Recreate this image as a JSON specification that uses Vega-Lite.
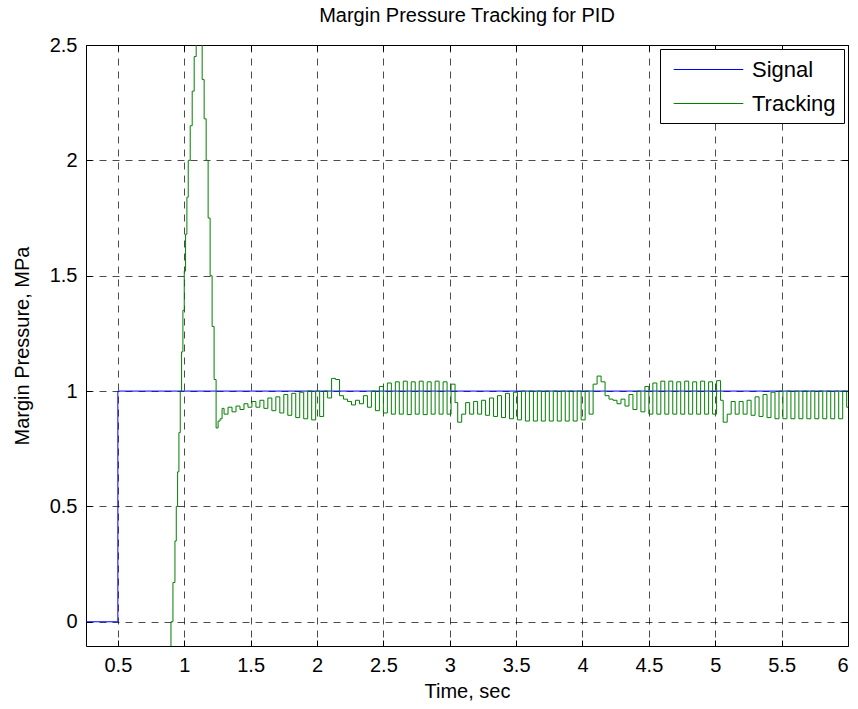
{
  "$schema": "https://vega.github.io/schema/vega-lite/v6.json",
  "width": 762,
  "height": 601,
  "autosize": {"type": "none"},
  "padding": {"left": 86, "top": 45, "right": 10, "bottom": 63},
  "title": {"text": "Margin Pressure Tracking for PID", "fontSize": 20, "fontWeight": "normal", "font": "Liberation Sans", "color": "#000", "offset": 9},
  "datasets": {
    "signal": [
      {"s": "Signal", "t": 0.26, "v": 0},
      {"s": "Signal", "t": 0.5, "v": 1},
      {"s": "Signal", "t": 6.0, "v": 1}
    ],
    "tracking": [
      {"s": "Tracking", "t": 0.87, "v": -0.3},
      {"s": "Tracking", "t": 0.89, "v": -0.12},
      {"s": "Tracking", "t": 0.9, "v": 0.0},
      {"s": "Tracking", "t": 0.915, "v": 0.17},
      {"s": "Tracking", "t": 0.93, "v": 0.35},
      {"s": "Tracking", "t": 0.94, "v": 0.5},
      {"s": "Tracking", "t": 0.95, "v": 0.65},
      {"s": "Tracking", "t": 0.96, "v": 0.82},
      {"s": "Tracking", "t": 0.97, "v": 1.0},
      {"s": "Tracking", "t": 0.98, "v": 1.17},
      {"s": "Tracking", "t": 0.99, "v": 1.35},
      {"s": "Tracking", "t": 1.0, "v": 1.52},
      {"s": "Tracking", "t": 1.01, "v": 1.68},
      {"s": "Tracking", "t": 1.02, "v": 1.84},
      {"s": "Tracking", "t": 1.03, "v": 2.0},
      {"s": "Tracking", "t": 1.045, "v": 2.15},
      {"s": "Tracking", "t": 1.06, "v": 2.3},
      {"s": "Tracking", "t": 1.075, "v": 2.45},
      {"s": "Tracking", "t": 1.09, "v": 2.6},
      {"s": "Tracking", "t": 1.105, "v": 2.68},
      {"s": "Tracking", "t": 1.12, "v": 2.52},
      {"s": "Tracking", "t": 1.135, "v": 2.35},
      {"s": "Tracking", "t": 1.15, "v": 2.18},
      {"s": "Tracking", "t": 1.165, "v": 2.0},
      {"s": "Tracking", "t": 1.18, "v": 1.75},
      {"s": "Tracking", "t": 1.195, "v": 1.5},
      {"s": "Tracking", "t": 1.21, "v": 1.28},
      {"s": "Tracking", "t": 1.225, "v": 1.05},
      {"s": "Tracking", "t": 1.24, "v": 0.84},
      {"s": "Tracking", "t": 1.255, "v": 0.87},
      {"s": "Tracking", "t": 1.27, "v": 0.88},
      {"s": "Tracking", "t": 1.285, "v": 0.925},
      {"s": "Tracking", "t": 1.3, "v": 0.9},
      {"s": "Tracking", "t": 1.33, "v": 0.93},
      {"s": "Tracking", "t": 1.36, "v": 0.91},
      {"s": "Tracking", "t": 1.39, "v": 0.935},
      {"s": "Tracking", "t": 1.42, "v": 0.92},
      {"s": "Tracking", "t": 1.45, "v": 0.945},
      {"s": "Tracking", "t": 1.48, "v": 0.93},
      {"s": "Tracking", "t": 1.51, "v": 0.955},
      {"s": "Tracking", "t": 1.54, "v": 0.93},
      {"s": "Tracking", "t": 1.57, "v": 0.96},
      {"s": "Tracking", "t": 1.6, "v": 0.925},
      {"s": "Tracking", "t": 1.63, "v": 0.97},
      {"s": "Tracking", "t": 1.66, "v": 0.915},
      {"s": "Tracking", "t": 1.69, "v": 0.975},
      {"s": "Tracking", "t": 1.72, "v": 0.905},
      {"s": "Tracking", "t": 1.75, "v": 0.985},
      {"s": "Tracking", "t": 1.78, "v": 0.895},
      {"s": "Tracking", "t": 1.81, "v": 0.99},
      {"s": "Tracking", "t": 1.84, "v": 0.885},
      {"s": "Tracking", "t": 1.87, "v": 0.995},
      {"s": "Tracking", "t": 1.9, "v": 0.88},
      {"s": "Tracking", "t": 1.93, "v": 1.0},
      {"s": "Tracking", "t": 1.96, "v": 0.875},
      {"s": "Tracking", "t": 1.99, "v": 1.0},
      {"s": "Tracking", "t": 2.02, "v": 0.89},
      {"s": "Tracking", "t": 2.05, "v": 1.0},
      {"s": "Tracking", "t": 2.08, "v": 0.97},
      {"s": "Tracking", "t": 2.11, "v": 1.055},
      {"s": "Tracking", "t": 2.14, "v": 1.05},
      {"s": "Tracking", "t": 2.17, "v": 0.98},
      {"s": "Tracking", "t": 2.2, "v": 0.965},
      {"s": "Tracking", "t": 2.23, "v": 0.955},
      {"s": "Tracking", "t": 2.26, "v": 0.94},
      {"s": "Tracking", "t": 2.29, "v": 0.96},
      {"s": "Tracking", "t": 2.32, "v": 0.945},
      {"s": "Tracking", "t": 2.35, "v": 0.98},
      {"s": "Tracking", "t": 2.38, "v": 0.93},
      {"s": "Tracking", "t": 2.41, "v": 1.0},
      {"s": "Tracking", "t": 2.44, "v": 0.915},
      {"s": "Tracking", "t": 2.47, "v": 1.02},
      {"s": "Tracking", "t": 2.5, "v": 0.905},
      {"s": "Tracking", "t": 2.53, "v": 1.035},
      {"s": "Tracking", "t": 2.56, "v": 0.9},
      {"s": "Tracking", "t": 2.59, "v": 1.04},
      {"s": "Tracking", "t": 2.62, "v": 0.9},
      {"s": "Tracking", "t": 2.65, "v": 1.043},
      {"s": "Tracking", "t": 2.68, "v": 0.898},
      {"s": "Tracking", "t": 2.71, "v": 1.04},
      {"s": "Tracking", "t": 2.74, "v": 0.9},
      {"s": "Tracking", "t": 2.77, "v": 1.043},
      {"s": "Tracking", "t": 2.8, "v": 0.898},
      {"s": "Tracking", "t": 2.83, "v": 1.04},
      {"s": "Tracking", "t": 2.86, "v": 0.9},
      {"s": "Tracking", "t": 2.89, "v": 1.043},
      {"s": "Tracking", "t": 2.92, "v": 0.9},
      {"s": "Tracking", "t": 2.95, "v": 1.04},
      {"s": "Tracking", "t": 2.98, "v": 0.9},
      {"s": "Tracking", "t": 3.01, "v": 1.03},
      {"s": "Tracking", "t": 3.04, "v": 0.95},
      {"s": "Tracking", "t": 3.06, "v": 0.865},
      {"s": "Tracking", "t": 3.09, "v": 0.9},
      {"s": "Tracking", "t": 3.12, "v": 0.95},
      {"s": "Tracking", "t": 3.15, "v": 0.9},
      {"s": "Tracking", "t": 3.18, "v": 0.955},
      {"s": "Tracking", "t": 3.21, "v": 0.9},
      {"s": "Tracking", "t": 3.24, "v": 0.96},
      {"s": "Tracking", "t": 3.27, "v": 0.895},
      {"s": "Tracking", "t": 3.3, "v": 0.97},
      {"s": "Tracking", "t": 3.33, "v": 0.89},
      {"s": "Tracking", "t": 3.36, "v": 0.98},
      {"s": "Tracking", "t": 3.39, "v": 0.885},
      {"s": "Tracking", "t": 3.42, "v": 0.99},
      {"s": "Tracking", "t": 3.45, "v": 0.88},
      {"s": "Tracking", "t": 3.48, "v": 0.995},
      {"s": "Tracking", "t": 3.51, "v": 0.875},
      {"s": "Tracking", "t": 3.54, "v": 1.0},
      {"s": "Tracking", "t": 3.57, "v": 0.87},
      {"s": "Tracking", "t": 3.6, "v": 1.0},
      {"s": "Tracking", "t": 3.63, "v": 0.87},
      {"s": "Tracking", "t": 3.66, "v": 1.0},
      {"s": "Tracking", "t": 3.69, "v": 0.87},
      {"s": "Tracking", "t": 3.72, "v": 1.0},
      {"s": "Tracking", "t": 3.75, "v": 0.87},
      {"s": "Tracking", "t": 3.78, "v": 1.0},
      {"s": "Tracking", "t": 3.81, "v": 0.87},
      {"s": "Tracking", "t": 3.84, "v": 1.0},
      {"s": "Tracking", "t": 3.87, "v": 0.87},
      {"s": "Tracking", "t": 3.9, "v": 1.0},
      {"s": "Tracking", "t": 3.93, "v": 0.87},
      {"s": "Tracking", "t": 3.96, "v": 1.0},
      {"s": "Tracking", "t": 3.99, "v": 0.875},
      {"s": "Tracking", "t": 4.02, "v": 1.0},
      {"s": "Tracking", "t": 4.05, "v": 0.9},
      {"s": "Tracking", "t": 4.08, "v": 1.03},
      {"s": "Tracking", "t": 4.11, "v": 1.065},
      {"s": "Tracking", "t": 4.14, "v": 1.04},
      {"s": "Tracking", "t": 4.17, "v": 0.98},
      {"s": "Tracking", "t": 4.2, "v": 0.965},
      {"s": "Tracking", "t": 4.23, "v": 0.96},
      {"s": "Tracking", "t": 4.26, "v": 0.945},
      {"s": "Tracking", "t": 4.29, "v": 0.965},
      {"s": "Tracking", "t": 4.32, "v": 0.935},
      {"s": "Tracking", "t": 4.35, "v": 0.985},
      {"s": "Tracking", "t": 4.38, "v": 0.92},
      {"s": "Tracking", "t": 4.41, "v": 1.0},
      {"s": "Tracking", "t": 4.44, "v": 0.91},
      {"s": "Tracking", "t": 4.47, "v": 1.02},
      {"s": "Tracking", "t": 4.5, "v": 0.9},
      {"s": "Tracking", "t": 4.53, "v": 1.035},
      {"s": "Tracking", "t": 4.56, "v": 0.9},
      {"s": "Tracking", "t": 4.59, "v": 1.043},
      {"s": "Tracking", "t": 4.62, "v": 0.9},
      {"s": "Tracking", "t": 4.65, "v": 1.043},
      {"s": "Tracking", "t": 4.68, "v": 0.9},
      {"s": "Tracking", "t": 4.71, "v": 1.04},
      {"s": "Tracking", "t": 4.74, "v": 0.9},
      {"s": "Tracking", "t": 4.77, "v": 1.043},
      {"s": "Tracking", "t": 4.8, "v": 0.9},
      {"s": "Tracking", "t": 4.83, "v": 1.04},
      {"s": "Tracking", "t": 4.86, "v": 0.9},
      {"s": "Tracking", "t": 4.89, "v": 1.043},
      {"s": "Tracking", "t": 4.92, "v": 0.9},
      {"s": "Tracking", "t": 4.95, "v": 1.04},
      {"s": "Tracking", "t": 4.98, "v": 0.9},
      {"s": "Tracking", "t": 5.01, "v": 1.045},
      {"s": "Tracking", "t": 5.04, "v": 0.96},
      {"s": "Tracking", "t": 5.06, "v": 0.865},
      {"s": "Tracking", "t": 5.09, "v": 0.9},
      {"s": "Tracking", "t": 5.12, "v": 0.955},
      {"s": "Tracking", "t": 5.15, "v": 0.9},
      {"s": "Tracking", "t": 5.18, "v": 0.955},
      {"s": "Tracking", "t": 5.21, "v": 0.9},
      {"s": "Tracking", "t": 5.24, "v": 0.96},
      {"s": "Tracking", "t": 5.27, "v": 0.895},
      {"s": "Tracking", "t": 5.3, "v": 0.975},
      {"s": "Tracking", "t": 5.33, "v": 0.89},
      {"s": "Tracking", "t": 5.36, "v": 0.985},
      {"s": "Tracking", "t": 5.39, "v": 0.885},
      {"s": "Tracking", "t": 5.42, "v": 0.995},
      {"s": "Tracking", "t": 5.45, "v": 0.88},
      {"s": "Tracking", "t": 5.48, "v": 1.0},
      {"s": "Tracking", "t": 5.51, "v": 0.88},
      {"s": "Tracking", "t": 5.54, "v": 1.0},
      {"s": "Tracking", "t": 5.57, "v": 0.88},
      {"s": "Tracking", "t": 5.6, "v": 1.0},
      {"s": "Tracking", "t": 5.63, "v": 0.88},
      {"s": "Tracking", "t": 5.66, "v": 1.0},
      {"s": "Tracking", "t": 5.69, "v": 0.88},
      {"s": "Tracking", "t": 5.72, "v": 1.0},
      {"s": "Tracking", "t": 5.75, "v": 0.88},
      {"s": "Tracking", "t": 5.78, "v": 1.0},
      {"s": "Tracking", "t": 5.81, "v": 0.88},
      {"s": "Tracking", "t": 5.84, "v": 1.0},
      {"s": "Tracking", "t": 5.87, "v": 0.88},
      {"s": "Tracking", "t": 5.9, "v": 1.0},
      {"s": "Tracking", "t": 5.93, "v": 0.88},
      {"s": "Tracking", "t": 5.96, "v": 1.0},
      {"s": "Tracking", "t": 5.99, "v": 0.93},
      {"s": "Tracking", "t": 6.0, "v": 0.93}
    ]
  },
  "layer": [
    {
      "data": {"name": "signal"},
      "mark": {"type": "line", "interpolate": "step-after", "strokeWidth": 1, "clip": true},
      "encoding": {
        "x": {"field": "t", "type": "quantitative", "title": "Time, sec",
          "scale": {"domain": [0.26, 6], "nice": false, "zero": false},
          "axis": {"values": [0.5, 1, 1.5, 2, 2.5, 3, 3.5, 4, 4.5, 5, 5.5, 6], "format": "~g", "orient": "bottom"}},
        "y": {"field": "v", "type": "quantitative", "title": "Margin Pressure, MPa",
          "scale": {"domain": [-0.105, 2.5], "nice": false, "zero": false},
          "axis": {"values": [0, 0.5, 1, 1.5, 2, 2.5], "format": "~g", "orient": "left"}},
        "color": {"field": "s", "type": "nominal", "title": null,
          "scale": {"domain": ["Signal", "Tracking"], "range": ["#0000ff", "#008000"]},
          "legend": {
            "symbolType": "M-2.9,0H2.9",
            "encode": {"symbols": {"update": {"stroke": {"scale": "color", "field": "value"}, "fill": {"value": "transparent"}, "strokeWidth": {"value": 1}}}}
          }}
      }
    },
    {
      "data": {"name": "tracking"},
      "mark": {"type": "line", "interpolate": "step-after", "strokeWidth": 1, "clip": true},
      "encoding": {
        "x": {"field": "t", "type": "quantitative",
          "axis": {"orient": "top", "values": [0.5, 1, 1.5, 2, 2.5, 3, 3.5, 4, 4.5, 5, 5.5, 6], "labels": false, "grid": false, "title": null}},
        "y": {"field": "v", "type": "quantitative",
          "axis": {"orient": "right", "values": [0, 0.5, 1, 1.5, 2, 2.5], "labels": false, "grid": false, "title": null}},
        "color": {"field": "s", "type": "nominal", "title": null}
      }
    }
  ],
  "config": {
    "view": {"stroke": "#000", "strokeWidth": 1},
    "font": "Liberation Sans",
    "axis": {
      "domain": false,
      "grid": true,
      "gridColor": "#000",
      "gridDash": [7, 6],
      "gridOpacity": 0.7,
      "gridWidth": 1,
      "tickColor": "#000",
      "tickSize": -6,
      "tickWidth": 1,
      "labelPadding": 15,
      "labelFont": "Liberation Sans",
      "labelFontSize": 20,
      "labelColor": "#000",
      "titleFont": "Liberation Sans",
      "titleFontSize": 20,
      "titleFontWeight": "normal",
      "titleColor": "#000"
    },
    "axisX": {"titlePadding": 6},
    "axisY": {"titlePadding": 17},
    "legend": {
      "orient": "top-right",
      "offset": 4,
      "strokeColor": "#000",
      "fillColor": "#fff",
      "padding": 8,
      "labelFont": "Liberation Sans",
      "labelFontSize": 22,
      "labelColor": "#000",
      "labelOffset": 31,
      "symbolOffset": 28,
      "symbolSize": 576,
      "symbolStrokeWidth": 1,
      "rowPadding": 10
    }
  }
}
